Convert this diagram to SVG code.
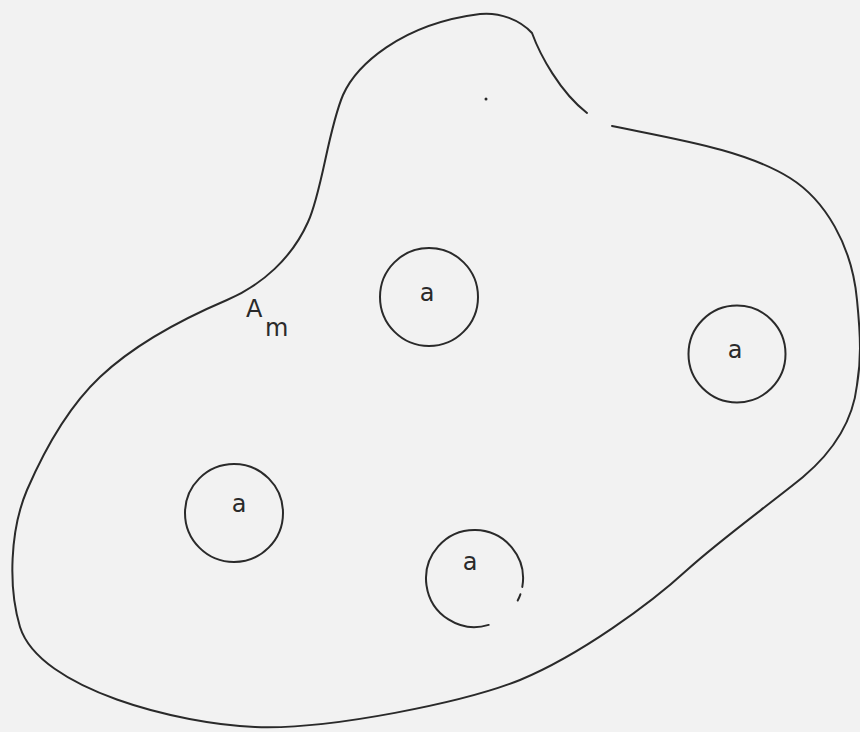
<svg xmlns="http://www.w3.org/2000/svg" width="860" height="732" viewBox="0 0 860 732">
  <style>
    .ln { fill: none; stroke: #2a2a2a; stroke-width: 2; stroke-linecap: round; stroke-linejoin: round; }
    .lbl { font-family: "DejaVu Sans", "Liberation Sans", sans-serif; font-size: 24px; fill: #2a2a2a; }
  </style>
  <rect x="0" y="0" width="860" height="732" fill="#f2f2f2"/>
  <g id="region-Am">
    <path class="ln" d="M 612,126 C 680,140 745,150 790,178 C 825,200 852,245 857,300 C 861,340 861,360 857,385 C 853,420 835,450 803,477 C 775,500 720,540 687,570 C 650,604 580,655 520,680 C 465,702 330,730 255,727 C 180,724 40,690 20,627 C 8,587 10,530 27,490 C 40,460 65,410 100,377 C 135,344 180,320 227,300 C 262,285 292,258 308,222 C 322,192 328,130 343,95 C 356,66 400,24 480,14 C 500,12 520,20 532,33 C 540,55 560,92 587,113"/>
    <circle cx="486" cy="99" r="1.5" fill="#2a2a2a"/>
    <text class="lbl" x="246" y="317">A</text>
    <text class="lbl" x="265" y="336">m</text>
  </g>
  <g id="hole-1">
    <circle class="ln" cx="429" cy="297" r="49"/>
    <text class="lbl" x="427" y="301" text-anchor="middle">a</text>
  </g>
  <g id="hole-2">
    <circle class="ln" cx="737" cy="354" r="48.5"/>
    <text class="lbl" x="735" y="358" text-anchor="middle">a</text>
  </g>
  <g id="hole-3">
    <circle class="ln" cx="234" cy="513" r="49"/>
    <text class="lbl" x="239" y="512" text-anchor="middle">a</text>
  </g>
  <g id="hole-4">
    <path class="ln" d="M 488.7,624.9 A 48.5,48.5 0 1 1 522.3,586.9"/>
    <path class="ln" d="M 520.4,594.3 A 48.5,48.5 0 0 1 517.7,600.5"/>
    <text class="lbl" x="470" y="570" text-anchor="middle">a</text>
  </g>
</svg>
